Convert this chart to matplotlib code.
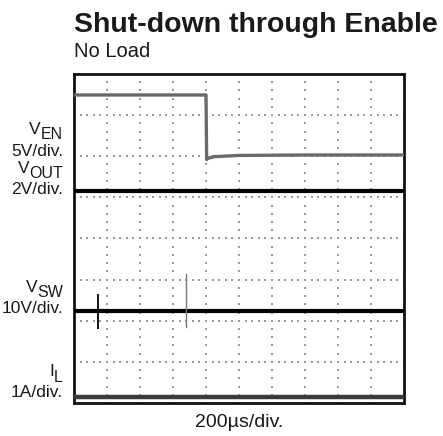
import matplotlib
matplotlib.use("Agg")
import matplotlib.pyplot as plt
import numpy as np

plt.rcParams['font.family'] = ['Liberation Sans', 'DejaVu Sans']

# time in microseconds (200 us/div, 10 div)
t_en = [0, 800, 804, 812, 850, 1000, 1400, 2000]
v_en = [7.49, 7.49, 5.92, 5.95, 5.99, 6.02, 6.03, 6.03]   # screen divisions

t_out = [0, 2000]
v_out = [5.15, 5.15]

t_sw = [0, 2000]
v_sw = [2.24, 2.24]
spike_t = [144, 676]
spike_lo = [1.82, 1.85]
spike_hi = [2.63, 3.14]
spike_col = ['#111111', '#777777']

t_il = [0, 2000]
v_il = [0.15, 0.15]

fig = plt.figure(figsize=(4.43, 4.36), dpi=100)
ax = fig.add_axes([74/443, 1-403/436, 330/443, 329/436])
ax.set_xlim(0, 2000)
ax.set_ylim(0, 8)

# graticule dots
gx = []
gy = []
for i in range(1, 10):
    for j in range(0, 41):
        gx.append(i*200); gy.append(j/5)
for j in range(1, 8):
    for i in range(0, 51):
        gx.append(i*40); gy.append(j)
ax.scatter(gx, gy, s=1.2, c='#999999', marker='s', linewidths=0, zorder=1)

ax.plot(t_en, v_en, color='#6a6a6a', lw=2.4, zorder=3)
ax.plot(t_out, v_out, color='#000000', lw=3.0, zorder=3)
ax.plot(t_sw, v_sw, color='#000000', lw=3.0, zorder=3)
for st, lo, hi, c, w in zip(spike_t, spike_lo, spike_hi, spike_col, [1.4, 1.0]):
    ax.plot([st, st], [lo, hi], color=c, lw=w, zorder=4)
ax.plot(t_il, v_il, color='#3a3a3a', lw=3.2, zorder=3)

ax.set_xticks([]); ax.set_yticks([])
for s in ax.spines.values():
    s.set_linewidth(2.0)
    s.set_color('#111111')

renderer = fig.canvas.get_renderer()
LS = 12.5

def lab(x, y, txt, size=LS):
    fig.text(x/443, 1-y/436, txt, ha='right', va='baseline', fontsize=size, color='#1a1a1a')

def sublab(x, y, main, sub, size=LS, subsize=11.5, drop=5):
    t = fig.text(x/443, 1-(y+drop)/436, sub, ha='right', va='baseline',
                 fontsize=subsize, color='#1a1a1a')
    w = t.get_window_extent(renderer).width
    fig.text((x - w)/443, 1-y/436, main, ha='right', va='baseline',
             fontsize=size, color='#1a1a1a')

sublab(63, 134, 'V', 'EN')
lab(63, 156, '5V/div.')
sublab(63, 173, 'V', 'OUT')
lab(63, 194, '2V/div.')
sublab(63, 292, 'V', 'SW')
lab(63, 313, '10V/div.')
sublab(63, 376, 'I', 'L', drop=6)
lab(63, 397, '1A/div.')

fig.text(74/443, 1-32/436, 'Shut-down through Enable', ha='left', va='baseline',
         fontsize=20.5, fontweight='bold', color='#1a1a1a')
fig.text(74/443, 1-57/436, 'No Load', ha='left', va='baseline', fontsize=14.5, color='#1a1a1a')
fig.text(239/443, 1-427/436, '200µs/div.', ha='center', va='baseline', fontsize=14, color='#1a1a1a')

fig.savefig('out.png', dpi=100)
